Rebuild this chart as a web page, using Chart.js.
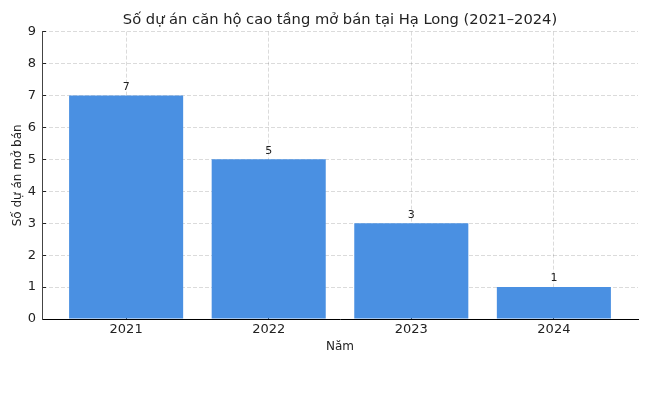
<!DOCTYPE html>
<html>
<head>
<meta charset="utf-8">
<script src="https://cdn.jsdelivr.net/npm/chart.js@4.4.0/dist/chart.umd.min.js"></script>
<style>
  html, body { margin: 0; padding: 0; background: #fff; }
  #wrap { width: 650px; height: 406px; }
</style>
</head>
<body>
<div id="wrap"><canvas id="canvas" width="650" height="406"></canvas></div>
<script>
var years = ['2021', '2022', '2023', '2024'];
var projects = [7, 5, 3, 1];
var yTicks = [0, 1, 2, 3, 4, 5, 6, 7, 8, 9];

var FONT = "'DejaVu Sans', sans-serif";

// write the value just above every bar
var valueLabels = {
    id: 'valueLabels',
    afterDatasetsDraw: function (chart) {
        var ctx = chart.ctx;
        var meta = chart.getDatasetMeta(0);
        ctx.save();
        ctx.font = '11px ' + FONT;
        ctx.fillStyle = '#222';
        ctx.textAlign = 'center';
        ctx.textBaseline = 'bottom';
        meta.data.forEach(function (bar, i) {
            ctx.fillText(String(projects[i]), bar.x, bar.y - 3);
        });
        ctx.restore();
    }
};

var dataPoints = years.map(function (y, i) {
    return { x: i, y: projects[i] };
});

var ctx = document.getElementById('canvas').getContext('2d');
window.myBar = new Chart(ctx, {
    type: 'bar',
    data: {
        datasets: [{
            label: 'Số dự án',
            data: dataPoints,
            backgroundColor: '#4a90e2',
            borderWidth: 0,
            categoryPercentage: 1,
            barPercentage: 0.8
        }]
    },
    options: {
        responsive: false,
        animation: false,
        devicePixelRatio: 1,
        layout: { padding: { left: 11, right: 12, top: 0, bottom: 52 } },
        plugins: {
            legend: { display: false },
            tooltip: { enabled: false },
            title: {
                display: true,
                fullSize: false,
                text: 'Số dự án căn hộ cao tầng mở bán tại Hạ Long (2021–2024)',
                color: '#222',
                font: { family: FONT, size: 14.7, weight: 'normal' },
                padding: { top: 11, bottom: 3 }
            }
        },
        scales: {
            x: {
                type: 'linear',
                min: -0.59,
                max: 3.59,
                offset: false,
                z: 1,
                afterBuildTicks: function (axis) {
                    axis.ticks = years.map(function (y, i) { return { value: i }; });
                },
                afterFit: function (axis) { axis.height = 35; },
                ticks: {
                    color: '#222',
                    font: { family: FONT, size: 13 },
                    padding: 7,
                    callback: function (v) { return years[v]; }
                },
                grid: {
                    offset: false,
                    color: 'rgba(0,0,0,0.14)',
                    tickColor: '#222',
                    tickLength: -4,
                    tickBorderDash: []
                },
                border: { color: '#000', width: 1, dash: [4, 2] },
                title: {
                    display: true,
                    text: 'Năm',
                    color: '#222',
                    font: { family: FONT, size: 12 },
                    padding: { top: 1, bottom: 0 }
                }
            },
            y: {
                min: 0,
                max: 9,
                z: 1,
                afterBuildTicks: function (axis) {
                    axis.ticks = yTicks.map(function (v) { return { value: v }; });
                },
                afterFit: function (axis) { axis.width = 31; },
                ticks: {
                    color: '#222',
                    font: { family: FONT, size: 13 },
                    padding: 10
                },
                grid: {
                    color: 'rgba(0,0,0,0.14)',
                    tickColor: '#222',
                    tickLength: -4,
                    tickBorderDash: []
                },
                border: { color: '#444', width: 1, dash: [4, 2] },
                title: {
                    display: true,
                    text: 'Số dự án mở bán',
                    color: '#222',
                    font: { family: FONT, size: 12 },
                    padding: { top: 0, bottom: 1 }
                }
            }
        }
    },
    plugins: [valueLabels]
});
</script>
</body>
</html>
